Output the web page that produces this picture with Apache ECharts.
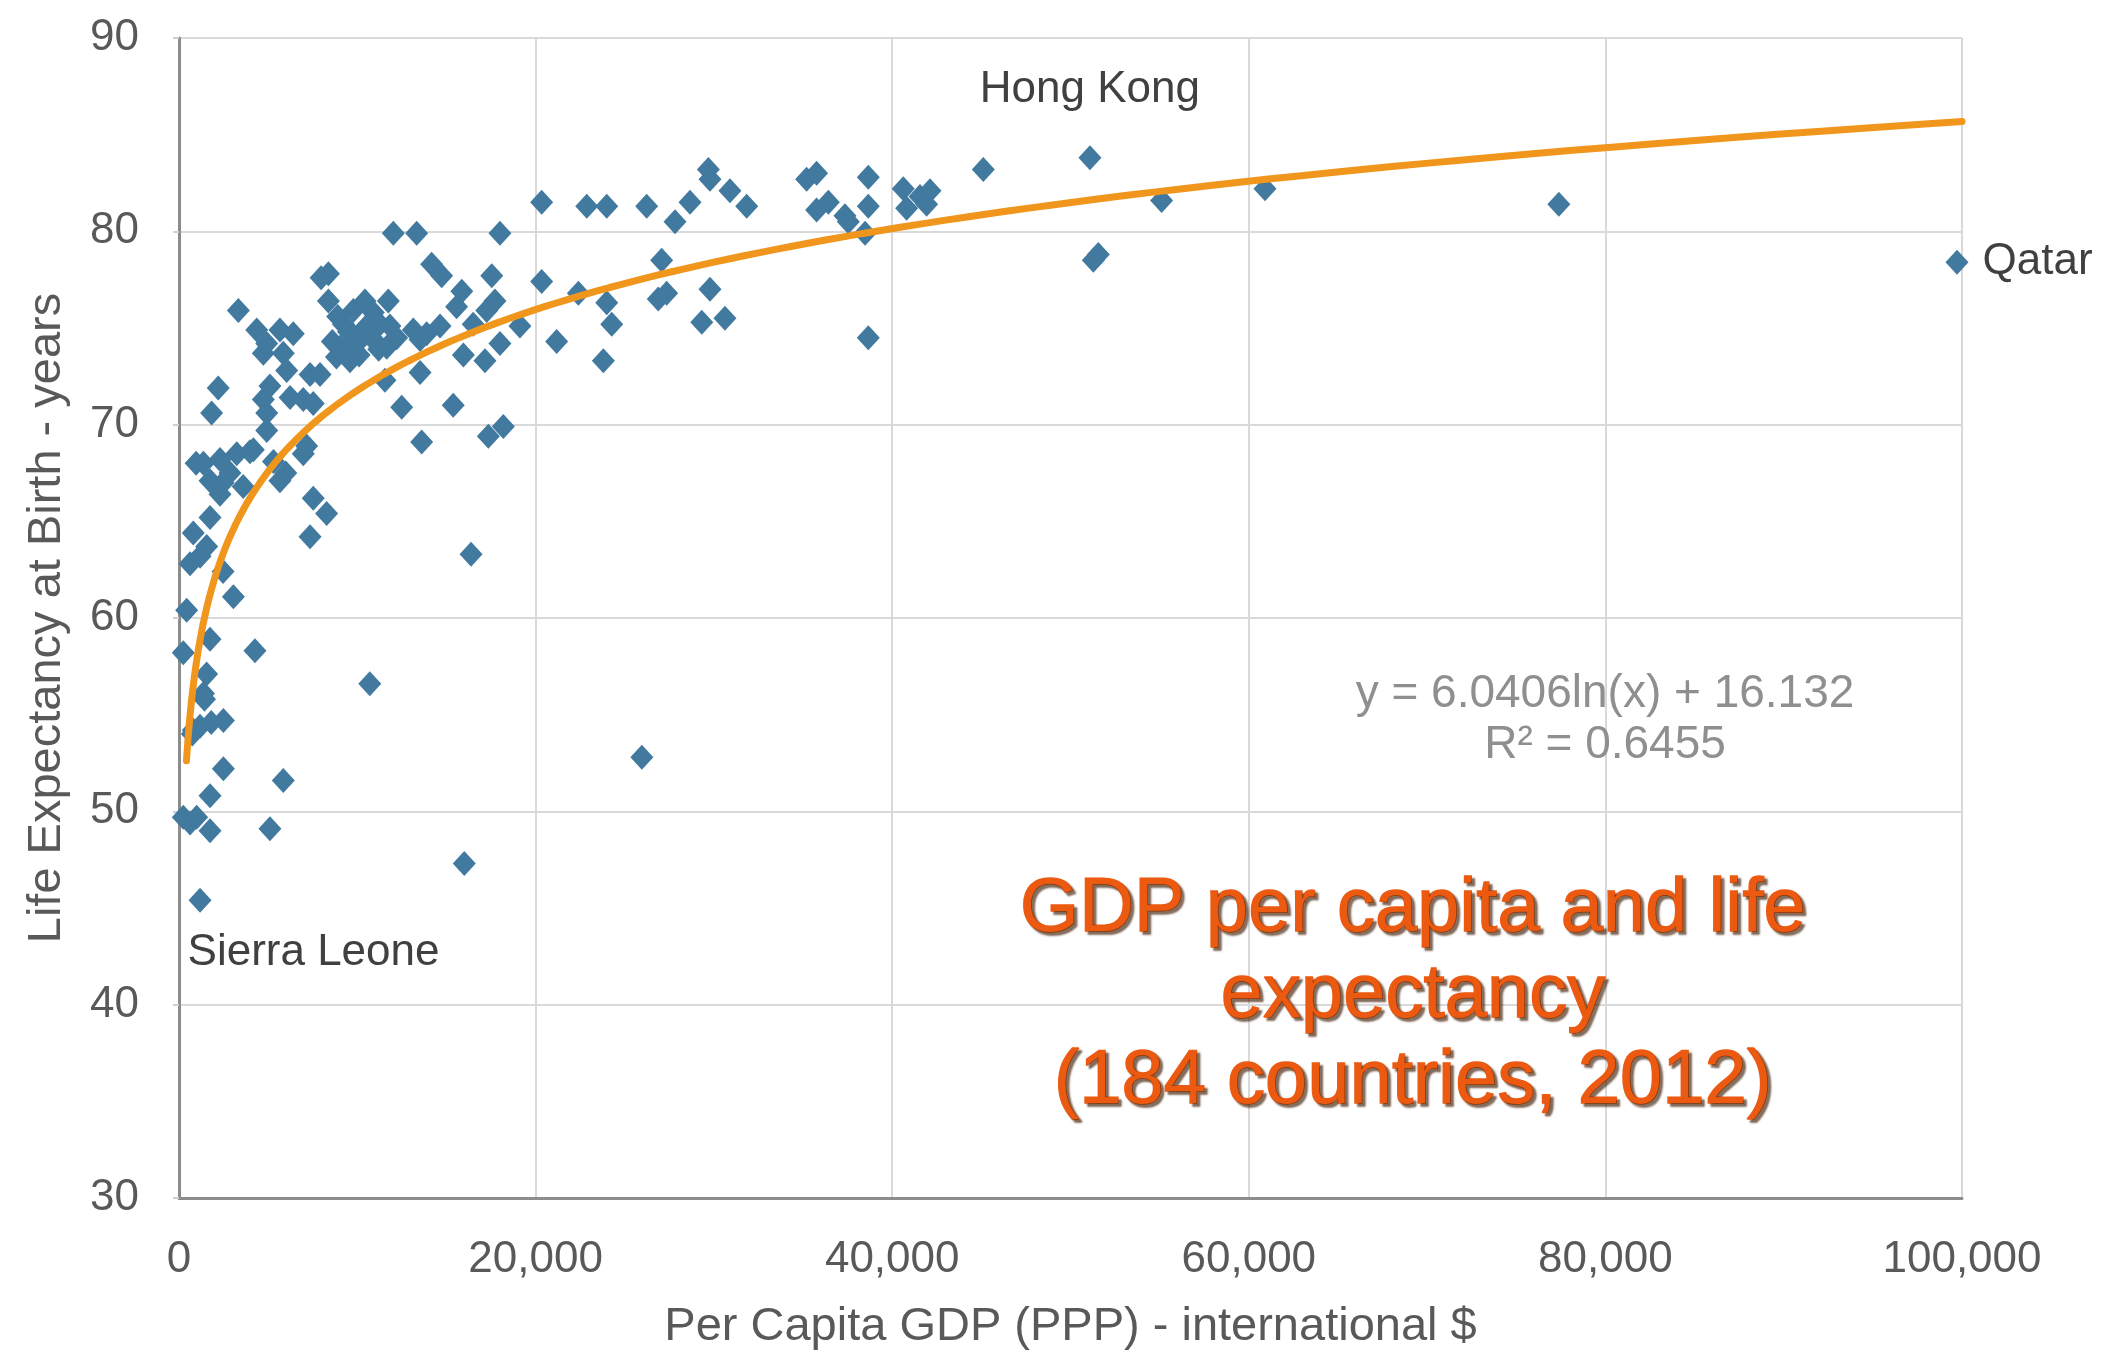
<!DOCTYPE html>
<html>
<head>
<meta charset="utf-8">
<title>GDP per capita and life expectancy</title>
<script src="https://cdn.jsdelivr.net/npm/echarts@6/dist/echarts.min.js"></script>
<style>
  html, body { margin: 0; padding: 0; background: #ffffff; }
  #chart { width: 2110px; height: 1351px; }
</style>
</head>
<body>
<div id="chart"></div>
<script>
// Per capita GDP (PPP, international $) for each country, 2012
const gdpPerCapita = [
  240, 620, 990, 1740, 1740, 2490, 800, 1180, 2490, 1370,
  1550, 240, 1740, 430, 3050, 620, 1180, 1550, 800, 1740,
  2470, 1430, 1810, 750,
  4260, 5850, 5100, 7350, 7530, 8280, 1370, 2300, 3240, 4170,
  2860, 1740, 2300, 3600, 5660, 6970, 960, 2470, 7160, 1830,
  2200, 4920, 4920, 4730, 5100, 6230, 6970, 7530, 6040, 7350,
  7910, 4730, 5850, 4920, 4360, 5660, 6410, 3330, 8380, 8380,
  7970, 5300, 5990, 3980,
  9780, 9220, 9030, 9970, 8830, 9590, 10340, 10430, 10900, 10530,
  11270, 11830, 10900, 11650, 12210, 11740, 12020, 13330, 11550, 12490,
  13610, 10700, 9500, 8600, 9300, 9800, 10100, 8900, 11200,
  14170, 14730, 17540, 18000, 15860, 15570, 17720, 17260, 13140, 13890,
  14640, 13520, 16500, 15950, 17160, 18000, 19120, 13520, 15380, 17350,
  18190, 16380, 16000,
  20340, 20340, 21180, 22400, 23990, 24270, 23800, 22870, 23990, 26230,
  28660, 27820, 29690, 29780, 30900, 31840, 27070, 26880, 27350, 29780,
  29320, 30620, 25960,
  35200, 35760, 35760, 36420, 37350, 37540, 38660, 38660, 38480, 38660,
  40620, 40810, 41560, 42120, 41930, 45110,
  51560, 51280, 55110, 60910, 77390
];

// Life expectancy at birth (years), same order as gdpPerCapita
const lifeExpectancy = [
  49.7, 49.4, 49.7, 50.8, 49.0, 52.2, 54.2, 54.4, 54.7, 56.1,
  57.1, 58.2, 58.9, 60.4, 61.1, 62.8, 63.2, 63.7, 64.4, 65.2,
  62.4, 55.8, 54.6, 54.0,
  58.3, 51.6, 49.1, 64.2, 66.2, 65.4, 68.0, 68.2, 68.5, 68.7,
  67.5, 67.1, 66.4, 66.8, 67.1, 68.5, 68.0, 67.0, 68.9, 70.6,
  71.9, 69.7, 70.6, 71.3, 72.0, 71.4, 71.3, 71.1, 72.8, 72.6,
  72.6, 73.7, 73.7, 74.2, 74.9, 74.9, 74.7, 75.9, 77.8, 76.4,
  77.6, 68.1, 67.5, 68.6,
  75.9, 75.2, 74.0, 74.2, 73.5, 73.3, 74.7, 76.4, 75.8, 75.1,
  75.2, 75.1, 74.4, 74.0, 74.5, 76.4, 79.9, 79.9, 72.3, 70.9,
  69.1, 56.6, 74.8, 74.3, 73.8, 74.6, 73.6, 75.6, 73.9,
  78.3, 77.7, 77.7, 79.9, 76.9, 76.1, 76.4, 75.9, 74.9, 74.7,
  75.1, 74.4, 75.2, 73.6, 73.3, 74.2, 75.1, 72.7, 71.0, 69.4,
  69.9, 63.3, 47.3,
  81.5, 77.4, 74.3, 76.8, 76.3, 75.2, 73.3, 81.3, 81.3, 81.3,
  81.5, 80.5, 83.2, 82.7, 82.1, 81.3, 78.5, 76.5, 76.8, 77.0,
  75.3, 75.5, 52.8,
  82.7, 83.0, 81.1, 81.5, 80.8, 80.5, 82.8, 81.3, 79.9, 74.5,
  82.2, 81.2, 81.8, 82.1, 81.4, 83.2,
  78.8, 78.5, 81.6, 82.2, 81.4
];

// Countries called out by name on the chart
const calloutNames = ['Hong Kong', 'Sierra Leone', 'Qatar'];
const calloutGdp = [51090, 1180, 99720];
const calloutLife = [83.8, 45.4, 78.4];

// Logarithmic trend line fitted to the data
const trendSlope = 6.0406;
const trendIntercept = 16.132;
const trendRSquared = 0.6455;
const trendStartGdp = 420;
const trendEndGdp = 100000;

// Axis ranges and tick steps
const xMin = 0, xMax = 100000, xStep = 20000;
const yMin = 30, yMax = 90, yStep = 10;

const chartTitleLines = ['GDP per capita and life', 'expectancy', '(184 countries, 2012)'];
const xAxisTitle = 'Per Capita GDP (PPP) - international $';
const yAxisTitle = 'Life Expectancy at Birth - years';

const FONT = '"Liberation Sans", Arial, Helvetica, sans-serif';
const MARKER = '#41799f';
const TEXT_GRAY = '#595959';

const scatterData = gdpPerCapita.map((g, i) => [g, lifeExpectancy[i]]);

// Trend curve sampled evenly in log space between the fitted range
const trendData = [];
const steps = 200;
for (let i = 0; i <= steps; i++) {
  const x = trendStartGdp * Math.pow(trendEndGdp / trendStartGdp, i / steps);
  trendData.push([x, trendSlope * Math.log(x) + trendIntercept]);
}

const calloutLabels = {
  'Hong Kong': { position: 'top', distance: 34, align: 'center' },
  'Sierra Leone': { position: [-1, 43], align: 'left', verticalAlign: 'top' },
  'Qatar': { position: 'right', distance: 14 }
};

const calloutData = calloutNames.map((name, i) => ({
  name: name,
  value: [calloutGdp[i], calloutLife[i]],
  label: Object.assign({
    show: true,
    formatter: '{b}',
    color: '#404040',
    fontFamily: FONT,
    fontSize: 44
  }, calloutLabels[name])
}));

const chart = echarts.init(document.getElementById('chart'), null, { renderer: 'canvas' });

const equationText =
  'y = ' + trendSlope.toFixed(4) + 'ln(x) + ' + trendIntercept.toFixed(3) +
  '\nR\u00B2 = ' + trendRSquared.toFixed(4);

chart.setOption({
  animation: false,
  backgroundColor: '#ffffff',
  grid: {
    left: 179, right: 148, top: 38, bottom: 153,
    containLabel: false,
    outerBoundsMode: 'none'
  },
  xAxis: {
    type: 'value',
    min: xMin, max: xMax, interval: xStep,
    name: xAxisTitle,
    nameLocation: 'middle',
    nameGap: 106,
    nameTextStyle: { color: TEXT_GRAY, fontFamily: FONT, fontSize: 47 },
    axisLine: { show: true, lineStyle: { color: '#8c8c8c', width: 3 } },
    axisTick: { show: false },
    axisLabel: {
      color: TEXT_GRAY, fontFamily: FONT, fontSize: 44, margin: 40,
      formatter: v => v.toLocaleString('en-US')
    },
    splitLine: { show: true, lineStyle: { color: '#d9d9d9', width: 2 } }
  },
  yAxis: {
    type: 'value',
    min: yMin, max: yMax, interval: yStep,
    name: yAxisTitle,
    nameLocation: 'middle',
    nameGap: 108,
    nameTextStyle: { color: TEXT_GRAY, fontFamily: FONT, fontSize: 47 },
    axisLine: { show: true, lineStyle: { color: '#8c8c8c', width: 3 } },
    axisTick: { show: true, length: 6, lineStyle: { color: '#d0d0d0', width: 2 } },
    axisLabel: { color: TEXT_GRAY, fontFamily: FONT, fontSize: 44, margin: 40 },
    splitLine: { show: true, lineStyle: { color: '#d9d9d9', width: 2 } }
  },
  series: [
    {
      name: 'Countries',
      type: 'scatter',
      symbol: 'diamond',
      symbolSize: [23, 25],
      itemStyle: { color: MARKER, opacity: 1 },
      data: scatterData,
      z: 2
    },
    {
      name: 'Callouts',
      type: 'scatter',
      symbol: 'diamond',
      symbolSize: [23, 25],
      itemStyle: { color: MARKER, opacity: 1 },
      data: calloutData,
      z: 2
    },
    {
      name: 'Log trend',
      type: 'line',
      data: trendData,
      showSymbol: false,
      smooth: false,
      lineStyle: { color: '#f0961c', width: 7, cap: 'round' },
      z: 3
    }
  ],
  graphic: [
    {
      type: 'text',
      x: 1605,
      y: 669,
      z: 10,
      style: {
        text: equationText,
        fill: '#8f8f8f',
        font: '46px ' + FONT,
        align: 'center',
        verticalAlign: 'top',
        lineHeight: 51
      }
    },
    {
      type: 'text',
      x: 1413,
      y: 867,
      z: 10,
      style: {
        text: chartTitleLines.join('\n'),
        fill: '#ec5a12',
        stroke: '#ec5a12',
        lineWidth: 1.5,
        font: '76px ' + FONT,
        align: 'center',
        verticalAlign: 'top',
        lineHeight: 86,
        textShadowColor: 'rgba(70,35,10,0.65)',
        textShadowOffsetX: 3,
        textShadowOffsetY: 3,
        textShadowBlur: 2
      }
    }
  ]
});
</script>
</body>
</html>
